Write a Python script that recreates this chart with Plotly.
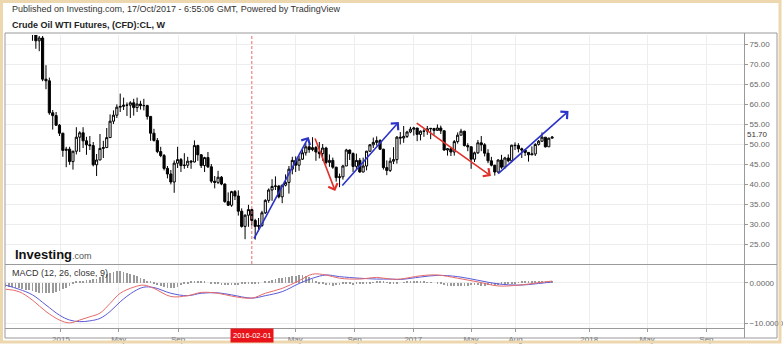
import plotly.graph_objects as go
import pandas as pd

W, H = 783, 345

# ---------------- data (weekly WTI candles) ----------------
start_week = "2014-09-08"

open_ = [
    # 2014
    93.3, 92.3, 92.4, 93.5, 89.7, 85.8, 82.8, 81.0, 80.5, 78.7, 75.8, 76.5, 66.2, 65.8, 57.8, 57.1, 54.7,
    # 2015
    52.7, 48.4, 48.7, 45.6, 48.2, 51.7, 52.8, 50.8, 49.8, 49.6, 44.8, 46.0, 48.9,
    49.1, 51.6, 55.7, 57.2, 59.2, 59.4, 59.7, 59.7, 60.3, 59.1, 60.0, 59.6, 59.6,
    56.9, 52.7, 50.9, 48.1, 47.1, 43.9, 42.5, 40.5, 45.2, 46.1, 44.6, 44.7, 45.7,
    45.5, 49.6, 47.3, 44.6, 46.6, 44.3, 40.7, 40.4, 41.7, 40.0, 35.6, 34.7, 38.1,
    # 2016
    37.0, 33.2, 29.4, 32.2, 33.6, 30.9, 29.4, 29.6, 32.8, 35.9, 38.5, 39.4, 39.5,
    36.8, 39.7, 40.4, 43.7, 45.9, 44.7, 46.2, 47.8, 49.3, 48.6, 49.1, 48.0, 47.6,
    49.0, 45.4, 45.9, 44.2, 41.6, 41.8, 44.5, 48.5, 47.6, 44.4, 45.9, 43.0, 44.5,
    48.2, 49.8, 50.4, 50.85, 48.7, 44.1, 43.4, 45.7, 46.1, 51.7, 51.5, 51.9, 53.0,
    # 2017
    53.7, 54.0, 52.4, 53.2, 53.2, 53.8, 53.9, 53.4, 54.0, 53.3, 48.5, 48.8, 48.0,
    50.6, 52.2, 53.2, 49.6, 49.3, 46.2, 47.8, 50.3, 49.8, 47.7, 45.8, 44.7, 43.0,
    46.0, 44.2, 46.5, 45.8, 49.7, 49.6, 48.8, 48.5, 47.9, 47.3, 47.5, 49.9, 50.7,
    51.7, 49.3, 51.45,
]
high = [
    93.7, 95.0, 94.0, 95.0, 90.8, 86.3, 84.0, 82.6, 80.9, 79.5, 77.0, 77.0, 69.7, 66.6, 58.5, 58.0, 55.0,
    52.8, 49.3, 49.3, 48.3, 54.2, 53.2, 54.2, 51.8, 52.0, 50.5, 47.5, 52.5, 50.8,
    54.0, 57.4, 58.4, 59.9, 62.6, 61.6, 60.4, 60.7, 61.3, 61.6, 60.8, 61.3, 59.8,
    57.0, 53.8, 51.5, 49.3, 47.5, 44.5, 43.5, 45.9, 49.3, 46.5, 47.7, 46.8, 46.0,
    50.9, 49.8, 47.5, 46.8, 48.0, 45.0, 42.0, 43.3, 42.0, 40.1, 37.9, 38.3, 38.5,
    38.4, 33.9, 32.4, 34.8, 33.8, 31.3, 31.5, 33.3, 36.2, 38.9, 41.2, 41.9, 39.7,
    39.8, 42.4, 44.5, 46.8, 46.9, 47.0, 48.6, 50.2, 50.0, 51.7, 49.5, 50.5, 50.0,
    49.3, 47.4, 46.6, 44.3, 42.6, 44.8, 48.8, 48.6, 47.9, 47.6, 46.5, 46.6, 48.3,
    50.0, 51.6, 51.9, 51.2, 48.8, 45.9, 46.6, 49.2, 52.0, 53.0, 54.5, 53.3, 54.3,
    54.3, 54.0, 53.4, 53.8, 54.5, 54.0, 54.0, 54.9, 54.6, 53.4, 49.0, 49.0, 51.0,
    52.9, 53.8, 53.3, 50.2, 49.4, 48.1, 51.0, 52.0, 50.2, 48.7, 46.8, 44.8, 46.2,
    47.3, 46.8, 47.4, 49.8, 50.4, 50.2, 49.1, 48.6, 48.0, 49.4, 50.2, 51.0, 52.9,
    51.7, 51.6, 52.0,
]
low = [
    91.4, 91.5, 91.2, 89.2, 84.9, 79.8, 80.2, 79.8, 75.8, 73.8, 73.2, 65.7, 63.7, 57.3, 53.6, 54.5, 52.0,
    46.8, 44.2, 44.8, 43.6, 47.4, 48.0, 49.0, 47.3, 48.5, 44.4, 42.0, 46.0, 46.5,
    49.0, 51.5, 55.0, 56.5, 58.0, 58.5, 57.0, 56.5, 57.1, 58.0, 58.6, 58.4, 56.1,
    50.8, 50.6, 47.7, 46.7, 43.4, 41.4, 39.9, 37.8, 44.0, 43.0, 43.8, 44.0, 43.8,
    45.4, 45.8, 44.0, 43.0, 44.0, 40.2, 38.9, 40.0, 39.7, 35.3, 34.5, 34.3, 36.0,
    32.1, 29.1, 26.2, 29.3, 29.6, 26.1, 28.2, 29.3, 32.5, 35.3, 35.8, 38.5, 36.4,
    35.2, 39.4, 37.6, 42.4, 43.0, 43.3, 46.0, 47.1, 47.8, 48.2, 45.8, 46.4, 45.8,
    44.9, 44.3, 43.8, 40.6, 39.2, 41.1, 44.5, 46.0, 43.0, 43.5, 42.8, 42.9, 43.4,
    48.0, 49.0, 49.6, 48.5, 43.6, 42.2, 43.0, 45.0, 45.1, 49.9, 50.3, 51.5, 52.7,
    52.1, 50.7, 50.9, 51.8, 52.3, 51.2, 52.3, 53.3, 52.5, 48.3, 47.1, 47.0, 47.1,
    50.1, 52.2, 49.4, 48.2, 43.8, 45.5, 47.5, 48.2, 46.9, 45.2, 44.4, 42.1, 42.7,
    43.8, 43.8, 45.4, 45.4, 48.5, 47.9, 46.5, 47.0, 45.6, 47.2, 47.0, 49.6, 50.5,
    49.1, 49.3, 51.4,
]
close = [
    92.3, 92.4, 93.5, 89.7, 85.8, 82.8, 81.0, 80.5, 78.7, 75.8, 76.5, 66.2, 65.8, 57.8, 57.1, 54.7, 52.7,
    48.4, 48.7, 45.6, 48.2, 51.7, 52.8, 50.8, 49.8, 49.6, 44.8, 46.0, 48.9, 49.1,
    51.6, 55.7, 57.2, 59.2, 59.4, 59.7, 59.7, 60.3, 59.1, 60.0, 59.6, 59.6, 56.9,
    52.7, 50.9, 48.1, 47.1, 43.9, 42.5, 40.5, 45.2, 46.1, 44.6, 44.7, 45.7, 45.5,
    49.6, 47.3, 44.6, 46.6, 44.3, 40.7, 40.4, 41.7, 40.0, 35.6, 34.7, 38.1, 37.0,
    33.2, 29.4, 32.2, 33.6, 30.9, 29.4, 29.6, 32.8, 35.9, 38.5, 39.4, 39.5, 36.8,
    39.7, 40.4, 43.7, 45.9, 44.7, 46.2, 47.8, 49.3, 48.6, 49.1, 48.0, 47.6, 49.0,
    45.4, 45.9, 44.2, 41.6, 41.8, 44.5, 48.5, 47.6, 44.4, 45.9, 43.0, 44.5, 48.2,
    49.8, 50.4, 50.85, 48.7, 44.1, 43.4, 45.7, 46.1, 51.7, 51.5, 51.9, 53.0, 53.7,
    54.0, 52.4, 53.2, 53.2, 53.8, 53.9, 53.4, 54.0, 53.3, 48.5, 48.8, 48.0, 50.6,
    52.2, 53.2, 49.6, 49.3, 46.2, 47.8, 50.3, 49.8, 47.7, 45.8, 44.7, 43.0, 46.0,
    44.2, 46.5, 45.8, 49.7, 49.6, 48.8, 48.5, 47.9, 47.3, 47.5, 49.9, 50.7, 51.7,
    49.3, 51.45, 51.7,
]
last_price = 51.70

# MACD (12, 26, close, 9)
macd_week_idx = [0, 4, 8, 12, 16, 19, 22, 25, 28, 31, 34, 38, 41, 44, 49, 54, 58, 63, 67, 73,
                 77, 82, 87, 91, 95, 99, 105, 110, 114, 117, 123, 128, 134, 140, 146, 152, 158, 162]
macd_line = [-1.6, -2.2, -4.3, -7.1, -9.2, -9.9, -9.2, -8.4, -7.5, -5.1, -2.6, -1.1, -0.6, -1.4,
             -3.4, -3.2, -2.4, -2.6, -3.3, -3.8, -2.6, -1.4, 0.5, 2.1, 1.9, 1.1, 0.9, 1.3, 0.9,
             0.9, 1.7, 1.9, 1.1, 0.2, -0.8, -0.6, 0.0, 0.4]
signal_line = [-0.6, -1.6, -3.0, -5.5, -8.0, -9.2, -9.6, -9.4, -8.8, -7.1, -4.7, -2.2, -1.1, -1.2,
               -2.6, -3.2, -2.6, -2.5, -3.0, -3.8, -3.2, -2.2, -0.2, 1.1, 1.9, 1.5, 1.1, 0.9, 0.9,
               0.8, 1.4, 1.8, 1.5, 0.6, -0.3, -0.6, -0.2, 0.2]
macd_hist = [
    -1.0, -1.0, -1.1, -1.2, -1.3, -1.5, -1.7, -1.9, -2.1, -2.3,
    -2.5, -2.6, -2.6, -2.6, -2.5, -2.3, -2.0, -1.6, -1.2, -0.7,
    -0.3, 0.2, 0.4, 0.5, 0.6, 0.7, 0.8, 1.0, 1.3, 1.7,
    2.1, 2.4, 2.6, 2.8, 2.8, 2.7, 2.5, 2.2, 1.9, 1.6,
    1.2, 0.9, 0.5, 0.2, -0.3, -0.6, -0.9, -1.1, -1.3, -1.4,
    -1.3, -1.0, -0.6, -0.3, -0.1, 0.2, 0.4, 0.5, 0.4, 0.2,
    0.0, -0.2, -0.3, -0.4, -0.5, -0.5, -0.6, -0.6, -0.5, -0.5,
    -0.4, -0.4, -0.3, -0.3, -0.2, -0.1, 0.0, 0.3, 0.5, 0.7,
    0.9, 1.1, 1.2, 1.3, 1.5, 1.6, 1.7, 1.8, 1.8, 1.6,
    1.3, 1.0, 0.5, -0.1, -0.3, -0.5, -0.6, -0.7, -0.6, -0.5,
    -0.4, -0.3, -0.4, -0.5, -0.4, -0.3, -0.2, -0.1, -0.1, 0.1,
    0.2, 0.3, 0.2, 0.1, -0.1, -0.2, -0.1, 0.0, 0.1, 0.2,
    0.3, 0.4, 0.4, 0.3, 0.2, 0.1, 0.1, 0.0, -0.1, -0.3,
    -0.5, -0.7, -0.8, -0.9, -0.9, -0.8, -0.7, -0.7, -0.6, -0.6,
    -0.6, -0.7, -0.7, -0.6, -0.5, -0.5, -0.5, -0.4, -0.3, -0.2,
    -0.2, -0.1, 0.1, 0.2, 0.3, 0.3, 0.3, 0.3, 0.3, 0.2,
    0.2, 0.1, 0.2,
]

# trend arrows drawn on the chart (start -> end)
arrow_start_date = ["2016-02-04", "2016-06-10", "2016-08-04", "2017-01-05", "2017-06-23"]
arrow_start_price = [26.0, 51.75, 39.25, 55.5, 42.25]
arrow_end_date = ["2016-05-29", "2016-07-23", "2016-12-02", "2017-06-11", "2017-11-19"]
arrow_end_price = [51.75, 38.25, 55.5, 42.0, 58.25]
arrow_color = ["#2b33c9", "#e0302a", "#2b33c9", "#e0302a", "#2b33c9"]

tick_dates = ["2015-01-01", "2015-05-01", "2015-09-01", "2016-01-01", "2016-05-01", "2016-09-01",
              "2017-01-01", "2017-05-01", "2017-08-01", "2018-01-01", "2018-05-01", "2018-09-01"]
tick_text = ["2015", "May", "Sep", "", "May", "Sep", "2017", "May", "Aug", "2018", "May", "Sep"]
price_ticks = [25, 30, 35, 40, 45, 50, 55, 60, 65, 70, 75]
macd_ticks = [0, -10]
marker_date = "2016-02-01"

# ---------------- figure ----------------
dates = pd.date_range(start_week, periods=len(close), freq="W-MON")
macd_dates = [dates[i] for i in macd_week_idx]


def px(x):
    return x / W


def py(y):
    return 1 - y / H


FONT = "Arial, Liberation Sans, sans-serif"
GRID = "#ededed"
AXC = "#9a9a9a"

fig = go.Figure()
fig.add_trace(go.Candlestick(
    x=dates, open=open_, high=high, low=low, close=close,
    increasing=dict(line=dict(color="#000000", width=1), fillcolor="#ffffff"),
    decreasing=dict(line=dict(color="#000000", width=1), fillcolor="#000000"),
    whiskerwidth=0, showlegend=False, hoverinfo="skip",
    xaxis="x", yaxis="y",
))
fig.add_trace(go.Bar(
    x=dates, y=macd_hist, marker=dict(color="#9a9a9a", line=dict(width=0)),
    width=1.6 * 86400000, xaxis="x2", yaxis="y2", showlegend=False, hoverinfo="skip",
))
fig.add_trace(go.Scatter(
    x=macd_dates, y=signal_line, mode="lines", line=dict(color="#5a5ad8", width=1, shape="spline"),
    xaxis="x2", yaxis="y2", showlegend=False, hoverinfo="skip",
))
fig.add_trace(go.Scatter(
    x=macd_dates, y=macd_line, mode="lines", line=dict(color="#e66a6a", width=1, shape="spline"),
    xaxis="x2", yaxis="y2", showlegend=False, hoverinfo="skip",
))

xr = ["2014-09-07", "2018-11-18"]
xdom = [px(5), px(744)]
common_x = dict(type="date", range=xr, domain=xdom, tickvals=tick_dates, showgrid=True,
                gridcolor=GRID, gridwidth=1, zeroline=False, showline=False, fixedrange=True)
fig.update_layout(
    width=W, height=H, margin=dict(l=0, r=0, t=0, b=0),
    paper_bgcolor="#ffffff", plot_bgcolor="#ffffff",
    font=dict(family=FONT, size=8, color="#555555"),
    xaxis=dict(**common_x, anchor="y", ticktext=tick_text, showticklabels=False,
               rangeslider=dict(visible=False)),
    xaxis2=dict(**common_x, anchor="y2", ticktext=tick_text, showticklabels=True,
                ticks="outside", ticklen=3, tickcolor=AXC, tickfont=dict(size=8, color="#666666"),
                matches="x"),
    yaxis=dict(domain=[py(264), py(35)], range=[20, 77.25], side="right", anchor="x",
               tickvals=price_ticks, tickformat=".2f", ticks="outside", ticklen=3, tickcolor=AXC,
               tickfont=dict(size=8, color="#666666"), showgrid=True, gridcolor=GRID,
               zeroline=False, showline=False, fixedrange=True),
    yaxis2=dict(domain=[py(328), py(265)], range=[-11.16, 4.36], side="right", anchor="x2",
                tickvals=macd_ticks, tickformat=".4f", ticks="outside", ticklen=3, tickcolor=AXC,
                tickfont=dict(size=8, color="#666666"), showgrid=True, gridcolor=GRID,
                zeroline=False, showline=False, fixedrange=True),
    bargap=0,
    boxgap=0.1,
)

shapes = []
# tan outer border
shapes.append(dict(type="rect", xref="paper", yref="paper", x0=px(1.5), x1=px(780), y0=py(342), y1=py(1.5),
                   line=dict(color="#edd7ae", width=3), fillcolor="rgba(0,0,0,0)", layer="above"))
# chart frame
shapes.append(dict(type="rect", xref="paper", yref="paper", x0=px(5), x1=px(777), y0=py(338), y1=py(33),
                   line=dict(color=AXC, width=1), layer="above"))
# panel separator
shapes.append(dict(type="line", xref="paper", yref="paper", x0=px(5), x1=px(777), y0=py(264.5), y1=py(264.5),
                   line=dict(color=AXC, width=1), layer="above"))
# bottom axis line
shapes.append(dict(type="line", xref="paper", yref="paper", x0=px(5), x1=px(744), y0=py(328.5), y1=py(328.5),
                   line=dict(color=AXC, width=1), layer="above"))
# right value-axis line
shapes.append(dict(type="line", xref="paper", yref="paper", x0=px(744.5), x1=px(744.5), y0=py(338), y1=py(33),
                   line=dict(color=AXC, width=1), layer="above"))
# crosshair date marker
shapes.append(dict(type="line", xref="x", yref="y domain", x0=marker_date, x1=marker_date, y0=0, y1=1,
                   line=dict(color="#e86a6a", width=1, dash="3px,2px"), layer="above"))
fig.update_layout(shapes=shapes)

ann = []
for sd, sp, ed, ep, c in zip(arrow_start_date, arrow_start_price, arrow_end_date, arrow_end_price, arrow_color):
    ann.append(dict(x=ed, y=ep, xref="x", yref="y", ax=sd, ay=sp, axref="x", ayref="y",
                    text="", showarrow=True, arrowhead=4, arrowsize=1.2, arrowwidth=1.6,
                    arrowcolor=c, standoff=0, startstandoff=0))
ann.append(dict(x=px(10), y=py(9), xref="paper", yref="paper", xanchor="left", yanchor="middle",
                text="Published on Investing.com, 17/Oct/2017 - 6:55:06 GMT, Powered by TradingView",
                showarrow=False, font=dict(family=FONT, size=9, color="#333333")))
ann.append(dict(x=px(10), y=py(25), xref="paper", yref="paper", xanchor="left", yanchor="middle",
                text="<b>Crude Oil WTI Futures, (CFD):CL, W</b>",
                showarrow=False, font=dict(family=FONT, size=9, color="#222222")))
ann.append(dict(x=px(13), y=py(254), xref="paper", yref="paper", xanchor="left", yanchor="middle",
                text="<b>Investing</b><span style='font-size:9px;color:#555555'>.com</span>",
                showarrow=False, font=dict(family=FONT, size=13, color="#111111")))
ann.append(dict(x=px(10), y=py(273), xref="paper", yref="paper", xanchor="left", yanchor="middle",
                text="MACD (12, 26, close, 9)",
                showarrow=False, font=dict(family=FONT, size=9, color="#333333")))
ann.append(dict(x=px(746), y=52.3, xref="paper", yref="y", xanchor="left", yanchor="middle",
                text="%.2f" % last_price, showarrow=False, bgcolor="#ffffff", borderpad=0,
                font=dict(family=FONT, size=8, color="#333333")))
ann.append(dict(x=marker_date, y=py(335.5), xref="x", yref="paper", xanchor="center", yanchor="middle",
                text=marker_date, showarrow=False, bgcolor="#e8141a", borderpad=2,
                font=dict(family=FONT, size=7.5, color="#ffffff")))
fig.update_layout(annotations=ann)

fig.write_html("out.html")
